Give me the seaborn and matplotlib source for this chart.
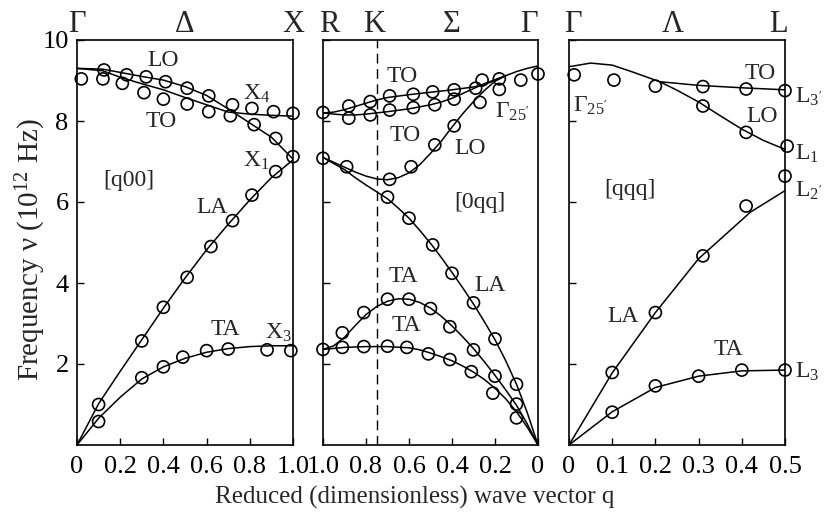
import numpy as np
import pandas as pd
import matplotlib
matplotlib.use("Agg")
import matplotlib.pyplot as plt
import seaborn as sns

sns.set_style("ticks")
plt.rcParams['font.family'] = ['Liberation Serif', 'DejaVu Serif']
plt.rcParams['mathtext.fontset'] = 'custom'
plt.rcParams['mathtext.rm'] = 'Liberation Serif'
plt.rcParams['mathtext.it'] = 'Liberation Serif:italic'

# ---------------- [q00] panel (Gamma -> X) ----------------
p1_lo_q = [0.0, 0.12, 0.2, 0.3, 0.4, 0.5, 0.6, 0.7, 0.8, 0.9, 1.0]
p1_lo_nu = [9.30, 9.28, 9.20, 9.10, 9.01, 8.85, 8.63, 8.30, 7.95, 7.60, 7.06]
p1_to_q = [0.0, 0.12, 0.2, 0.3, 0.4, 0.5, 0.6, 0.7, 0.8, 0.9, 1.0]
p1_to_nu = [9.30, 9.24, 9.08, 8.92, 8.77, 8.58, 8.40, 8.22, 8.17, 8.14, 8.12]
p1_la_q = [0.0, 0.1, 0.2, 0.3, 0.4, 0.5, 0.6, 0.7, 0.8, 0.9, 1.0]
p1_la_nu = [0.0, 1.02, 1.82, 2.60, 3.38, 4.12, 4.82, 5.45, 6.05, 6.60, 7.04]
p1_ta_q = [0.0, 0.1, 0.2, 0.3, 0.4, 0.5, 0.6, 0.7, 0.8, 0.9, 1.0]
p1_ta_nu = [0.0, 0.66, 1.18, 1.63, 1.93, 2.14, 2.29, 2.38, 2.43, 2.45, 2.45]

p1_pts_q = [0.02, 0.125, 0.12, 0.23, 0.21, 0.32, 0.31, 0.41, 0.40, 0.51, 0.51,
            0.61, 0.61, 0.72, 0.71, 0.81, 0.82, 0.91, 0.92, 1.0, 1.0,
            0.92, 0.81, 0.72, 0.62, 0.51, 0.40, 0.30, 0.10,
            0.10, 0.30, 0.40, 0.49, 0.60, 0.70, 0.88, 0.99]
p1_pts_nu = [9.04, 9.26, 9.04, 9.14, 8.93, 9.09, 8.70, 8.97, 8.54, 8.81, 8.42,
             8.62, 8.23, 8.40, 8.13, 8.31, 7.91, 8.23, 7.57, 8.19, 7.12,
             6.75, 6.17, 5.54, 4.90, 4.14, 3.40, 2.57, 1.00,
             0.58, 1.66, 1.93, 2.17, 2.33, 2.37, 2.35, 2.33]

# ---------------- [0qq] panel (R/K -> Gamma) ----------------
p2_to1_q = [1.0, 0.95, 0.9, 0.85, 0.8, 0.75, 0.7, 0.6, 0.5, 0.4, 0.3, 0.25, 0.2, 0.15, 0.1, 0.05, 0.0]
p2_to1_nu = [8.20, 8.22, 8.28, 8.36, 8.44, 8.52, 8.58, 8.65, 8.71, 8.77, 8.84, 8.90, 9.00, 9.12, 9.22, 9.30, 9.36]
p2_to2_q = [1.0, 0.95, 0.9, 0.85, 0.8, 0.7, 0.6, 0.5, 0.45, 0.4, 0.35, 0.3, 0.25, 0.2, 0.15]
p2_to2_nu = [8.20, 8.17, 8.15, 8.15, 8.17, 8.23, 8.30, 8.40, 8.47, 8.56, 8.68, 8.80, 8.92, 9.02, 9.12]
p2_lo_q = [1.0, 0.95, 0.9, 0.85, 0.8, 0.75, 0.7, 0.65, 0.6, 0.55, 0.5, 0.45, 0.4, 0.35, 0.3, 0.25, 0.2, 0.15]
p2_lo_nu = [7.10, 6.98, 6.86, 6.74, 6.64, 6.57, 6.55, 6.60, 6.72, 6.92, 7.20, 7.50, 7.85, 8.18, 8.48, 8.75, 8.98, 9.12]
p2_la_q = [1.0, 0.95, 0.9, 0.85, 0.8, 0.75, 0.7, 0.65, 0.6, 0.55, 0.5, 0.45, 0.4, 0.35, 0.3, 0.25, 0.2, 0.15, 0.1, 0.05, 0.0]
p2_la_nu = [7.10, 6.95, 6.80, 6.60, 6.42, 6.25, 6.08, 5.85, 5.60, 5.30, 4.98, 4.63, 4.26, 3.88, 3.48, 3.05, 2.60, 2.08, 1.50, 0.80, 0.0]
p2_ta1_q = [1.0, 0.95, 0.9, 0.85, 0.8, 0.75, 0.7, 0.65, 0.6, 0.55, 0.5, 0.45, 0.4, 0.35, 0.3, 0.25, 0.2, 0.15, 0.1, 0.05, 0.0]
p2_ta1_nu = [2.36, 2.45, 2.66, 2.95, 3.22, 3.42, 3.55, 3.61, 3.60, 3.52, 3.38, 3.18, 2.94, 2.67, 2.38, 2.06, 1.72, 1.36, 0.98, 0.52, 0.0]
p2_ta2_q = [1.0, 0.9, 0.8, 0.7, 0.6, 0.55, 0.5, 0.45, 0.4, 0.35, 0.3, 0.25, 0.2, 0.15, 0.1, 0.05, 0.0]
p2_ta2_nu = [2.36, 2.41, 2.43, 2.43, 2.40, 2.35, 2.27, 2.18, 2.08, 1.95, 1.80, 1.62, 1.40, 1.14, 0.82, 0.44, 0.0]

p2_pts_q = [1.0, 0.88, 0.88, 0.78, 0.78, 0.69, 0.69, 0.58, 0.58, 0.49, 0.48, 0.39, 0.39,
            0.29, 0.26, 0.27, 0.18, 0.18, 0.08, 0.0,
            0.39, 0.48, 0.59, 0.69, 0.89, 1.0,
            0.70, 0.60, 0.49, 0.40, 0.30, 0.20, 0.10,
            0.91, 0.81, 0.70, 0.60, 0.50, 0.41, 0.30, 0.20, 0.10,
            1.0, 0.91, 0.81, 0.70, 0.61, 0.51, 0.41, 0.31, 0.21, 0.10]
p2_pts_nu = [8.21, 8.37, 8.07, 8.48, 8.15, 8.62, 8.27, 8.66, 8.33, 8.72, 8.40, 8.77, 8.54,
             8.81, 9.01, 8.46, 9.04, 8.78, 9.01, 9.16,
             7.88, 7.41, 6.87, 6.56, 6.87, 7.08,
             6.12, 5.60, 4.94, 4.24, 3.51, 2.62, 1.50,
             2.77, 3.27, 3.60, 3.60, 3.37, 2.92, 2.35, 1.70, 1.01,
             2.36, 2.41, 2.43, 2.44, 2.41, 2.25, 2.11, 1.81, 1.28, 0.67]

# ---------------- [qqq] panel (Gamma -> L) ----------------
p3_to_q = [0.0, 0.05, 0.1, 0.15, 0.21, 0.3, 0.4, 0.5]
p3_to_nu = [9.34, 9.43, 9.38, 9.20, 8.97, 8.88, 8.82, 8.77]
p3_lo_q = [0.21, 0.25, 0.3, 0.35, 0.4, 0.45, 0.5]
p3_lo_nu = [8.97, 8.76, 8.47, 8.13, 7.80, 7.52, 7.30]
p3_la_q = [0.0, 0.1, 0.2, 0.3, 0.42, 0.5]
p3_la_nu = [0.0, 1.78, 3.27, 4.60, 5.75, 6.28]
p3_ta_q = [0.0, 0.1, 0.2, 0.3, 0.4, 0.5]
p3_ta_nu = [0.0, 0.82, 1.42, 1.70, 1.83, 1.85]

p3_pts_q = [0.012, 0.104, 0.20, 0.31, 0.41, 0.50, 0.31, 0.41, 0.505, 0.50, 0.41,
            0.31, 0.20, 0.10, 0.10, 0.20, 0.30, 0.40, 0.50]
p3_pts_nu = [9.14, 9.01, 8.86, 8.85, 8.79, 8.75, 8.37, 7.72, 7.38, 6.64, 5.90,
             4.67, 3.27, 1.79, 0.81, 1.46, 1.70, 1.85, 1.85]

p1_ticks = [0, 0.2, 0.4, 0.6, 0.8, 1.0]
p1_ticklabels = ["0", "0.2", "0.4", "0.6", "0.8", "1.0"]
p2_ticks = [1.0, 0.8, 0.6, 0.4, 0.2, 0]
p2_ticklabels = ["1.0", "0.8", "0.6", "0.4", "0.2", "0"]
p3_ticks = [0, 0.1, 0.2, 0.3, 0.4, 0.5]
p3_ticklabels = ["0", "0.1", "0.2", "0.3", "0.4", "0.5"]
y_ticks = [2, 4, 6, 8, 10]

W, H = 832, 518
fig = plt.figure(figsize=(W / 100, H / 100), dpi=100)
bottom = 1 - 445 / H
height = (445 - 40) / H
ax1 = fig.add_axes([77 / W, bottom, 216 / W, height])
ax2 = fig.add_axes([323 / W, bottom, 215 / W, height])
ax3 = fig.add_axes([569 / W, bottom, 216 / W, height])

line_kw = dict(color='black', lw=1.1, estimator=None, sort=False, legend=False)
pt_kw = dict(s=75, marker='o', facecolor='none', edgecolor='black', linewidth=1.2,
             zorder=3, legend=False, clip_on=False)

for q, nu in [(p1_lo_q, p1_lo_nu), (p1_to_q, p1_to_nu), (p1_la_q, p1_la_nu), (p1_ta_q, p1_ta_nu)]:
    sns.lineplot(x=q, y=nu, ax=ax1, **line_kw)
sns.scatterplot(x=p1_pts_q, y=p1_pts_nu, ax=ax1, **pt_kw)

for q, nu in [(p2_to1_q, p2_to1_nu), (p2_to2_q, p2_to2_nu), (p2_lo_q, p2_lo_nu),
              (p2_la_q, p2_la_nu), (p2_ta1_q, p2_ta1_nu), (p2_ta2_q, p2_ta2_nu)]:
    sns.lineplot(x=q, y=nu, ax=ax2, **line_kw)
sns.scatterplot(x=p2_pts_q, y=p2_pts_nu, ax=ax2, **pt_kw)
ax2.axvline(0.75, color='black', lw=1.0, ls=(0, (7, 4)))

for q, nu in [(p3_to_q, p3_to_nu), (p3_lo_q, p3_lo_nu), (p3_la_q, p3_la_nu), (p3_ta_q, p3_ta_nu)]:
    sns.lineplot(x=q, y=nu, ax=ax3, **line_kw)
sns.scatterplot(x=p3_pts_q, y=p3_pts_nu, ax=ax3, **pt_kw)

ax1.set_xlim(0, 1)
ax2.set_xlim(1, 0)
ax3.set_xlim(0, 0.5)
for ax, t, tl in [(ax1, p1_ticks, p1_ticklabels), (ax2, p2_ticks, p2_ticklabels), (ax3, p3_ticks, p3_ticklabels)]:
    ax.set_ylim(0, 10)
    ax.set_xticks(t)
    ax.set_xticklabels(tl)
    ax.set_yticks(y_ticks)
    ax.tick_params(direction='in', length=5, width=1, labelsize=19, pad=6, colors='black')
    ax.tick_params(axis='x', pad=8)
    for s in ax.spines.values():
        s.set_visible(True)
        s.set_linewidth(1.2)
        s.set_color('black')
    ax.set_xlabel("")
    ax.set_ylabel("")
ax2.tick_params(labelleft=False)
ax3.tick_params(labelleft=False)
ax1.set_yticklabels([str(v) for v in y_ticks])

# symmetry point labels on top
top_kw = dict(xycoords=('data', 'axes fraction'), textcoords='offset points', xytext=(0, 6),
              ha='center', va='baseline', fontsize=22)
for ax, pts in [(ax1, [(0.0, "Γ"), (0.5, "Δ"), (1.0, "X")]),
                (ax2, [(0.97, "R"), (0.76, "K"), (0.4, "Σ"), (0.04, "Γ")]),
                (ax3, [(0.01, "Γ"), (0.24, "Λ"), (0.485, "L")])]:
    for q, lab in pts:
        ax.annotate(lab, (q, 1), **top_kw)

lab_kw = dict(fontsize=17, ha='center', va='center')
sub_kw = dict(fontsize=17, ha='left', va='baseline')
ax1.text(0.40, 9.49, "LO", **lab_kw)
ax1.text(0.39, 7.98, "TO", **lab_kw)
ax1.text(0.77, 8.53, r"X$_4$", **sub_kw)
ax1.text(0.77, 6.87, r"X$_1$", **sub_kw)
ax1.text(0.24, 6.53, "[q00]", **lab_kw)
ax1.text(0.627, 5.87, "LA", **lab_kw)
ax1.text(0.685, 2.84, "TA", **lab_kw)
ax1.text(0.87, 2.63, r"X$_3$", **sub_kw)

ax2.text(0.631, 9.09, "TO", **lab_kw)
ax2.text(0.619, 7.65, "TO", **lab_kw)
ax2.text(0.316, 7.33, "LO", **lab_kw)
ax2.text(0.20, 8.07, r"Γ$_{25'}$", **sub_kw)
ax2.text(0.27, 5.99, "[0qq]", **lab_kw)
ax2.text(0.627, 4.16, "TA", **lab_kw)
ax2.text(0.611, 2.96, "TA", **lab_kw)
ax2.text(0.223, 3.95, "LA", **lab_kw)

ax3.text(0.442, 9.18, "TO", **lab_kw)
ax3.text(0.446, 8.11, "LO", **lab_kw)
ax3.text(0.009, 8.23, r"Γ$_{25'}$", **sub_kw)
ax3.text(0.523, 8.44, r"L$_{3'}$", **sub_kw)
ax3.text(0.523, 7.04, r"L$_1$", **sub_kw)
ax3.text(0.523, 6.13, r"L$_{2'}$", **sub_kw)
ax3.text(0.141, 6.30, "[qqq]", **lab_kw)
ax3.text(0.126, 3.17, "LA", **lab_kw)
ax3.text(0.369, 2.35, "TA", **lab_kw)
ax3.text(0.523, 1.65, r"L$_3$", **sub_kw)

fig.text(0.499, 1 - 497 / H, "Reduced (dimensionless) wave vector q", fontsize=18,
         ha='center', va='center')
fig.text(0.037, 1 - 250 / H, r"Frequency ν (10$^{12}$ Hz)", fontsize=21,
         ha='center', va='center', rotation=90)

fig.savefig("out.png", dpi=100)
